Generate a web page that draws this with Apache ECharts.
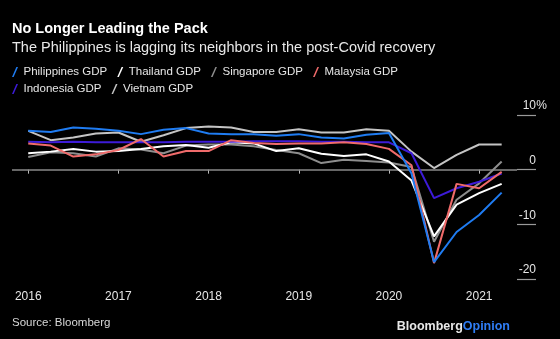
<!DOCTYPE html>
<html><head><meta charset="utf-8">
<script src="https://cdn.jsdelivr.net/npm/echarts@6/dist/echarts.min.js"></script>
<style>html,body{margin:0;padding:0;background:#000;}#c{width:560px;height:339px;}</style>
</head><body><div id="c"></div>
<script>
// Quarterly points (x position in years)
const quarters = [2016,2016.25,2016.5,2016.75,2017,2017.25,2017.5,2017.75,2018,2018.25,2018.5,2018.75,2019,2019.25,2019.5,2019.75,2020,2020.25,2020.5,2020.75,2021,2021.25];
const philippines = [7.1,6.9,7.7,7.5,7.1,6.5,7.3,7.6,6.6,6.5,6.5,6.2,6.5,5.9,5.7,6.4,6.7,-0.7,-16.9,-11.4,-8.3,-4.2];
const thailand    = [3.0,3.3,3.8,3.3,3.4,3.8,4.3,4.5,4.0,5.0,4.8,3.4,3.9,2.9,2.5,2.8,1.5,-2.0,-12.2,-6.4,-4.3,-2.6];
const singapore   = [2.3,3.2,3.0,2.4,3.9,3.7,3.0,4.4,4.6,4.6,4.3,3.6,3.0,1.2,1.8,1.6,1.3,0.5,-13.2,-5.5,-2.5,1.5];
const malaysia    = [4.8,4.4,2.4,2.8,3.6,5.6,2.4,3.4,3.4,5.4,4.9,4.7,4.8,4.8,5.0,4.7,3.8,0.8,-17.1,-2.6,-3.4,-0.4];
const indonesia   = [5.1,5.0,5.1,5.0,5.0,5.0,5.0,5.1,5.1,5.1,5.2,5.2,5.2,5.1,5.1,5.0,5.0,3.0,-5.2,-3.4,-2.2,-0.7];
const vietnam     = [7.1,5.4,5.9,6.6,6.8,5.1,6.3,7.6,7.9,7.7,6.9,6.9,7.4,6.8,6.8,7.4,7.1,3.3,0.3,2.7,4.6,4.6];
const yearTicks = [2016,2017,2018,2019,2020,2021];

const seriesDefs = [
  {name:'Philippines GDP', data:philippines, color:'#1f7cf2', z:7},
  {name:'Thailand GDP', data:thailand, color:'#ffffff', z:4},
  {name:'Singapore GDP', data:singapore, color:'#8e8e8e', z:3},
  {name:'Malaysia GDP', data:malaysia, color:'#f06b6b', z:6},
  {name:'Indonesia GDP', data:indonesia, color:'#3d1bd8', z:5},
  {name:'Vietnam GDP', data:vietnam, color:'#c4c4c4', z:2}
];
const slash = 'path://M0,10 L1.6,10 L6,0 L4.4,0 Z';
const chart = echarts.init(document.getElementById('c'));
const FONT = 'Liberation Sans';
const series = seriesDefs.map((s,i)=>({
  name:s.name, type:'line', data:quarters.map((q,j)=>[q,s.data[j]]),
  symbol:'none', lineStyle:{color:s.color,width:2}, itemStyle:{color:s.color},
  z: s.z, animation:false,
  markLine: i===0 ? {silent:true, symbol:'none', label:{show:false}, lineStyle:{color:'#8a8a8a',width:1.5,type:'solid'}, data:[{yAxis:0}], z:1} : undefined
}));
const legendText = {color:'#e6e6e6', fontSize:11.5, fontFamily:FONT};
chart.setOption({
  backgroundColor:'#000',
  animation:false,
  title:[
    {text:'No Longer Leading the Pack', left:12, top:21, padding:0, textStyle:{color:'#fff', fontSize:14.5, fontWeight:'bold', fontFamily:FONT}},
    {text:'The Philippines is lagging its neighbors in the post-Covid recovery', left:12, top:40, padding:0, textStyle:{color:'#e8e8e8', fontSize:14.5, fontWeight:'normal', fontFamily:FONT}}
  ],
  legend:[
    {data:seriesDefs.slice(0,4).map(s=>({name:s.name, icon:slash})), left:12, top:66, padding:0, itemWidth:7, itemHeight:10, itemGap:10, textStyle:legendText, selectedMode:false},
    {data:seriesDefs.slice(4).map(s=>({name:s.name, icon:slash})), left:12, top:83, padding:0, itemWidth:7, itemHeight:10, itemGap:10, textStyle:legendText, selectedMode:false}
  ],
  grid:{left:12, right:43, top:115, height:164, containLabel:false},
  xAxis:{type:'value', min:2015.82, max:2021.42,
    axisLine:{show:false}, splitLine:{show:false},
    axisTick:{show:true, customValues:yearTicks, length:4, lineStyle:{color:'#bbb',width:1}},
    axisLabel:{customValues:yearTicks, color:'#e6e6e6', fontSize:12, fontFamily:FONT, margin:10, formatter:v=>String(Math.round(v))},
    offset:2
  },
  yAxis:{type:'value', position:'right', min:-20, max:10, interval:10,
    axisLine:{show:false}, splitLine:{show:false},
    axisTick:{show:true, length:19, lineStyle:{color:'#9a9a9a',width:1.2}},
    axisLabel:{color:'#e6e6e6', fontSize:12, fontFamily:FONT, align:'right', margin:30, verticalAlign:'bottom', padding:[0,0,3,0],
      rich:{n:{color:'#e6e6e6', fontSize:12, fontFamily:FONT}, p:{color:'#e6e6e6', fontSize:12, fontFamily:FONT, width:11, align:'left'}},
      formatter:v=> v===10 ? '{n|10}{p|%}' : '{n|'+v+'}{p| }'}
  },
  graphic:[
    {type:'text', left:12, top:317, style:{text:'Source: Bloomberg', fill:'#d8d8d8', fontSize:11.5, fontFamily:FONT}},
    {type:'text', right:50, top:320, style:{text:'{a|Bloomberg}{b|Opinion}', rich:{a:{fill:'#e8e8e8', fontSize:12.5, fontWeight:'bold', fontFamily:FONT}, b:{fill:'#2f7df5', fontSize:12.5, fontWeight:'bold', fontFamily:FONT}}}}
  ],
  series:series
});
</script></body></html>
